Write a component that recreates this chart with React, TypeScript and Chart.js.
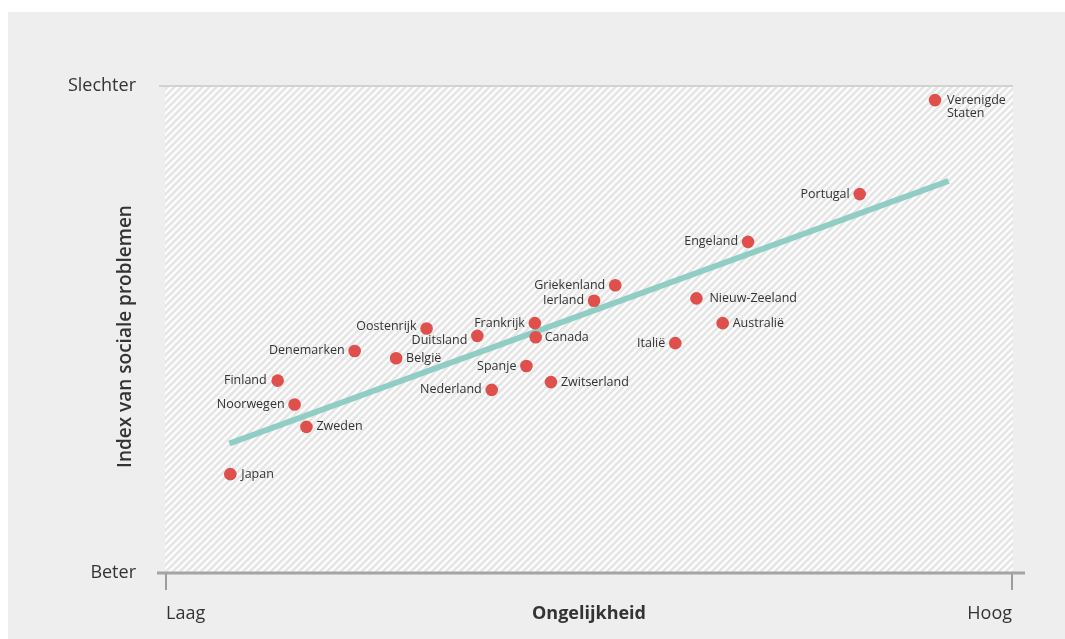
import React, { useEffect, useRef } from 'react';
import { Chart, registerables } from 'chart.js';

Chart.register(...registerables);

// ---- data ----
const countries = [
  'Verenigde Staten', 'Portugal', 'Engeland', 'Griekenland', 'Ierland',
  'Nieuw-Zeeland', 'Australië', 'Italië', 'Frankrijk', 'Canada',
  'Spanje', 'Zwitserland', 'Nederland', 'Duitsland', 'Oostenrijk',
  'België', 'Denemarken', 'Finland', 'Noorwegen', 'Zweden', 'Japan',
];
const inequality = [
  90.9, 82.0, 68.8, 53.1, 50.6,
  62.7, 65.8, 60.2, 43.6, 43.7,
  42.6, 45.5, 38.5, 36.8, 30.8,
  27.2, 22.3, 13.2, 15.2, 16.6, 7.6,
];
const socialProblems = [
  97.1, 77.8, 68.0, 59.1, 55.9,
  56.4, 51.3, 47.2, 51.3, 48.4,
  42.5, 39.2, 37.6, 48.7, 50.2,
  44.1, 45.6, 39.5, 34.6, 30.0, 20.3,
];
const trendX = [7.5, 92.5];
const trendY = [26.6, 80.5];
const xTickLabels = ['Laag', 'Ongelijkheid', 'Hoog'];
const yTickLabels = ['Beter', 'Slechter'];
const yTitle = 'Index van sociale problemen';

// ---- label placement (style only) ----
const labelsOnRight = new Set([
  'Verenigde Staten', 'Nieuw-Zeeland', 'Australië', 'Canada', 'Zwitserland',
  'België', 'Zweden', 'Japan',
]);
const labelGap: Record<string, number> = { 'Nieuw-Zeeland': 13, 'Verenigde Staten': 12, Japan: 11, Canada: 9, Finland: 11 };
const labelDy: Record<string, number> = { Duitsland: 5, Oostenrijk: -2 };
const labelLines: Record<string, string[]> = { 'Verenigde Staten': ['Verenigde', 'Staten'] };

const FONT = "'Open Sans', 'Noto Sans', sans-serif";
const TEXT = '#333333';

function makeHatch(): CanvasPattern | string {
  const s = 7;
  const c = document.createElement('canvas');
  c.width = s;
  c.height = s;
  const g = c.getContext('2d');
  if (!g) return '#ececec';
  g.fillStyle = '#e5e5e5';
  g.fillRect(0, 0, s, s);
  g.strokeStyle = '#fcfcfc';
  g.lineWidth = 2.4;
  g.beginPath();
  for (const k of [0, s, 2 * s]) {
    g.moveTo(k + 10, -10);
    g.lineTo(k - s - 10, s + 10);
  }
  g.stroke();
  const p = g.createPattern(c, 'repeat');
  return p || '#ececec';
}

export default function App() {
  const ref = useRef<HTMLCanvasElement | null>(null);

  useEffect(() => {
    if (!ref.current) return;
    const hatch = makeHatch();

    const framePlugin = {
      id: 'frame',
      beforeDatasetsDraw(chart: any) {
        const { ctx, chartArea: a } = chart;
        ctx.save();
        ctx.fillStyle = hatch;
        ctx.fillRect(a.left - 1, a.top + 1, a.right - a.left + 2, a.bottom - a.top - 1);
        // top line
        ctx.strokeStyle = '#d2d2d2';
        ctx.lineWidth = 2;
        ctx.beginPath();
        ctx.moveTo(a.left - 7, a.top);
        ctx.lineTo(a.right + 1, a.top);
        ctx.stroke();
        // bottom axis line
        ctx.strokeStyle = '#a4a4a4';
        ctx.lineWidth = 3;
        ctx.beginPath();
        ctx.moveTo(a.left - 9, a.bottom);
        ctx.lineTo(a.right + 13, a.bottom);
        ctx.stroke();
        // y title
        ctx.fillStyle = TEXT;
        ctx.font = `600 19px ${FONT}`;
        ctx.textAlign = 'center';
        ctx.textBaseline = 'middle';
        ctx.translate(a.left - 40, (a.top + a.bottom) / 2 + 7);
        ctx.rotate(-Math.PI / 2);
        ctx.fillText(yTitle, 0, 0);
        ctx.restore();
      },
      afterDatasetsDraw(chart: any) {
        const { ctx } = chart;
        const meta = chart.getDatasetMeta(0);
        ctx.save();
        ctx.fillStyle = TEXT;
        ctx.font = `12.5px ${FONT}`;
        ctx.textBaseline = 'middle';
        meta.data.forEach((pt: any, i: number) => {
          const name = countries[i];
          const right = labelsOnRight.has(name);
          const gap = labelGap[name] ?? 10;
          const dy = labelDy[name] ?? 0;
          const lines = labelLines[name] ?? [name];
          ctx.textAlign = right ? 'left' : 'right';
          const x = right ? pt.x + gap : pt.x - gap;
          lines.forEach((ln, j) => ctx.fillText(ln, x, pt.y + dy + j * 13.5));
        });
        ctx.restore();
      },
    };

    const chart = new Chart(ref.current, {
      type: 'scatter',
      data: {
        datasets: [
          {
            label: 'Landen',
            data: countries.map((_, i) => ({ x: inequality[i], y: socialProblems[i] })),
            backgroundColor: '#df504c',
            borderWidth: 0,
            pointRadius: 6.3,
            pointHoverRadius: 6.3,
          },
          {
            type: 'line',
            label: 'Trend',
            data: trendX.map((x, i) => ({ x, y: trendY[i] })),
            borderColor: '#90cdc4',
            borderWidth: 6,
            pointRadius: 0,
            fill: false,
            borderCapStyle: 'butt',
          } as any,
        ],
      },
      options: {
        animation: false,
        responsive: false,
        maintainAspectRatio: false,
        layout: { padding: { left: 58, top: 74, right: 53, bottom: 16 } },
        plugins: { legend: { display: false }, tooltip: { enabled: false } },
        scales: {
          x: {
            type: 'linear',
            min: 0,
            max: 100,
            afterBuildTicks: (s: any) => { s.ticks = [{ value: 0 }, { value: 50 }, { value: 100 }]; },
            afterFit: (s: any) => { s.height = 50; },
            border: { display: false },
            grid: {
              drawOnChartArea: false,
              drawTicks: true,
              tickLength: 17,
              lineWidth: 2,
              color: (c: any) => (c.index === 1 ? 'rgba(0,0,0,0)' : '#9c9c9c'),
            },
            ticks: {
              autoSkip: false,
              maxRotation: 0,
              align: 'inner',
              padding: 13,
              color: TEXT,
              font: (c: any) => (c.index === 1
                ? { family: FONT, size: 18, weight: 'bold' }
                : { family: FONT, size: 18, weight: 'normal' }) as any,
              callback: (_v: any, i: number) => xTickLabels[i],
            },
          },
          y: {
            type: 'linear',
            min: 0,
            max: 100,
            afterBuildTicks: (s: any) => { s.ticks = [{ value: 0 }, { value: 100 }]; },
            afterFit: (s: any) => { s.width = 100; },
            border: { display: false },
            grid: { display: false, drawTicks: false },
            ticks: {
              autoSkip: false,
              padding: 30,
              color: TEXT,
              font: { family: FONT, size: 18 },
              callback: (_v: any, i: number) => yTickLabels[i],
            },
          },
        },
      },
      plugins: [framePlugin],
    });

    return () => chart.destroy();
  }, []);

  return (
    <div
      style={{
        position: 'absolute',
        left: 8,
        top: 12,
        width: 1057,
        height: 627,
        background: '#efeeee',
      }}
    >
      <canvas ref={ref} width={1057} height={627} style={{ display: 'block', width: 1057, height: 627 }} />
    </div>
  );
}
